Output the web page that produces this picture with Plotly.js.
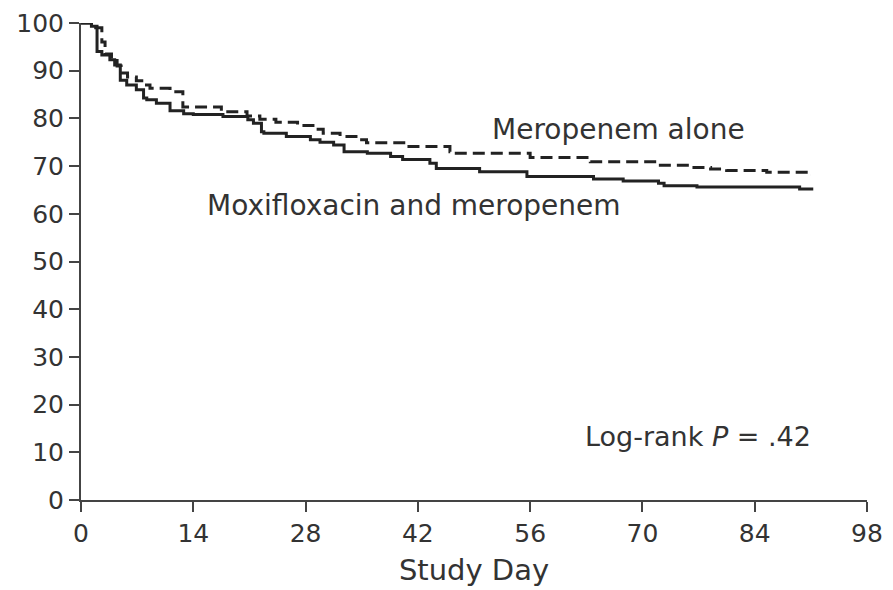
<!DOCTYPE html>
<html>
<head>
<meta charset="utf-8">
<script src="https://cdn.plot.ly/plotly-3.0.1.min.js"></script>
<style>
  html, body { margin: 0; padding: 0; background: #fff; }
  #chart { width: 893px; height: 590px; }
</style>
</head>
<body>
<div id="chart"></div>
<script>
// Kaplan-Meier step curves: survival (%) by study day for each treatment arm
const moxiDays = [0, 1.3, 2.0, 2.6, 3.6, 4.2, 4.9, 5.7, 6.9, 7.8, 8.2, 9.4, 11.1, 12.8, 14.0, 17.7,
  20.8, 21.5, 22.5, 22.8, 25.6, 28.6, 29.8, 31.5, 32.8, 35.7, 38.6, 40.1, 43.5, 44.3, 49.7,
  55.6, 63.9, 67.6, 72.0, 72.7, 76.8, 89.6, 91.3];
const moxiSurv = [100, 99.3, 94, 93.3, 92.3, 91.2, 88, 87, 86, 84.3, 83.9, 83.2, 81.6, 81, 80.8, 80.4,
  79.7, 79, 77.2, 76.9, 76.2, 75.5, 75.0, 74.4, 73.0, 72.7, 72.0, 71.4, 70.6, 69.5, 68.8,
  67.8, 67.3, 66.9, 66.4, 65.9, 65.6, 65.2, 65.2];

const meroDays = [0, 1.3, 2.6, 3.0, 3.8, 4.5, 5.0, 5.8, 6.9, 7.8, 8.6, 11.1, 12.7, 17.5, 20.7,
  22.3, 24.3, 27.0, 29.3, 30.2, 32.3, 34.8, 35.6, 40.5, 46.0, 46.6, 56.0, 63.5, 72.0, 75.6,
  78.5, 80.5, 85.5, 90.8, 91.0];
const meroSurv = [100, 99, 96, 93.5, 92.5, 91, 89.5, 88.7, 87.9, 87, 86.3, 85.6, 82.4, 81.4, 80.5,
  79.8, 79.2, 78.5, 77.7, 76.9, 76.2, 75.5, 74.9, 74.1, 73.0, 72.7, 71.8, 70.9, 70.2, 69.7,
  69.4, 69.1, 68.7, 68.1, 68.1];

const xTicks = [0, 14, 28, 42, 56, 70, 84, 98];
const yTicks = [0, 10, 20, 30, 40, 50, 60, 70, 80, 90, 100];

const labelMero = 'Meropenem alone';
const labelMoxi = 'Moxifloxacin and meropenem';
const pLabel = 'Log-rank <i>P</i> = .42';
const xTitle = 'Study Day';

const FONT = 'DejaVu Sans, Arial, sans-serif';
const TEXT = '#333333';
const AXIS = '#444444';

const traces = [
  {
    x: meroDays, y: meroSurv, type: 'scatter', mode: 'lines', name: labelMero,
    line: { shape: 'hv', color: '#222222', width: 3, dash: '12px,6px' },
    cliponaxis: false, hoverinfo: 'skip'
  },
  {
    x: moxiDays, y: moxiSurv, type: 'scatter', mode: 'lines', name: labelMoxi,
    line: { shape: 'hv', color: '#222222', width: 3 },
    cliponaxis: false, hoverinfo: 'skip'
  }
];

const layout = {
  width: 893, height: 590,
  margin: { l: 81, r: 26, t: 23, b: 90 },
  paper_bgcolor: '#ffffff', plot_bgcolor: '#ffffff',
  showlegend: false,
  font: { family: FONT, color: TEXT, size: 25 },
  xaxis: {
    range: [0, 98], tickvals: xTicks, ticktext: xTicks.map(String),
    showgrid: false, zeroline: false, showline: true, linecolor: AXIS, linewidth: 2,
    ticks: 'outside', ticklen: 10, tickwidth: 2, tickcolor: AXIS,
    tickfont: { family: FONT, size: 25, color: TEXT },
    title: { text: xTitle, font: { family: FONT, size: 29, color: TEXT }, standoff: 13 },
    fixedrange: true
  },
  yaxis: {
    range: [0, 100], tickvals: yTicks, ticktext: yTicks.map(String),
    showgrid: false, zeroline: false, showline: true, linecolor: AXIS, linewidth: 2,
    ticks: 'outside', ticklen: 10, tickwidth: 2, tickcolor: AXIS,
    tickfont: { family: FONT, size: 25, color: TEXT },
    fixedrange: true
  },
  annotations: [
    { x: 51, y: 77.6, xref: 'x', yref: 'y', text: labelMero, showarrow: false,
      xanchor: 'left', yanchor: 'middle', font: { family: FONT, size: 28, color: TEXT } },
    { x: 15.5, y: 61.8, xref: 'x', yref: 'y', text: labelMoxi, showarrow: false,
      xanchor: 'left', yanchor: 'middle', font: { family: FONT, size: 28, color: TEXT } },
    { x: 62.6, y: 13.4, xref: 'x', yref: 'y', text: pLabel, showarrow: false,
      xanchor: 'left', yanchor: 'middle', font: { family: FONT, size: 27, color: TEXT } }
  ]
};

Plotly.newPlot('chart', traces, layout, { staticPlot: true, displayModeBar: false });
</script>
</body>
</html>
